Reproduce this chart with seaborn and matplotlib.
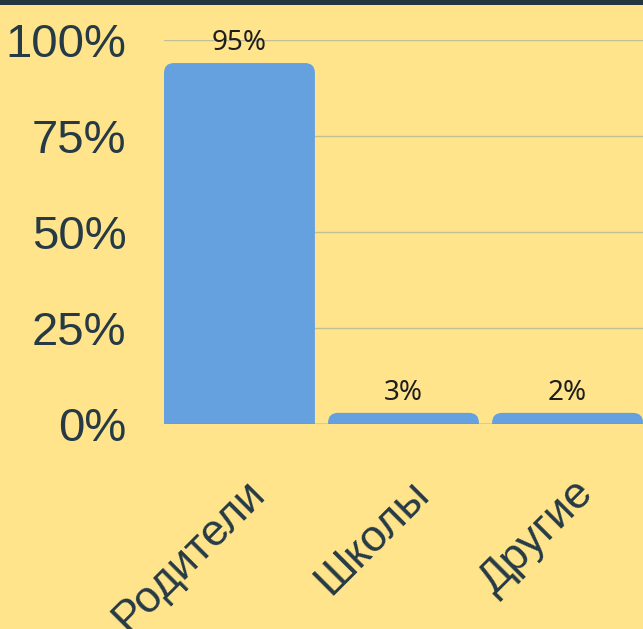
import matplotlib
matplotlib.use("Agg")
import matplotlib.pyplot as plt
import matplotlib.transforms as mtransforms
from matplotlib.path import Path
from matplotlib.patches import PathPatch, Rectangle
import pandas as pd
import seaborn as sns

# данные
categories = ["Родители", "Школы", "Другие"]
shares = [94, 2.9, 2.9]
value_labels = ["95%", "3%", "2%"]
y_ticks = [0, 25, 50, 75, 100]
y_tick_labels = ["0%", "25%", "50%", "75%", "100%"]

BG = "#FFE48B"
BAR = "#66A1DF"
DARK = "#253A45"


def rounded_top(ax, patch, r_px=10):
    # заменяем прямоугольник столбца на путь со скруглёнными верхними углами
    x0, y0 = patch.get_x(), patch.get_y()
    w, h = patch.get_width(), patch.get_height()
    inv = ax.transData.inverted()
    p0 = inv.transform((0, 0))
    p1 = inv.transform((r_px, r_px))
    rx = abs(p1[0] - p0[0])
    ry = min(abs(p1[1] - p0[1]), h)
    x1, y1 = x0 + w, y0 + h
    verts = [
        (x0, y0), (x0, y1 - ry), (x0, y1), (x0 + rx, y1),
        (x1 - rx, y1), (x1, y1), (x1, y1 - ry), (x1, y0), (x0, y0),
    ]
    codes = [
        Path.MOVETO, Path.LINETO, Path.CURVE3, Path.CURVE3,
        Path.LINETO, Path.CURVE3, Path.CURVE3, Path.LINETO, Path.CLOSEPOLY,
    ]
    ax.add_patch(PathPatch(Path(verts, codes), facecolor=patch.get_facecolor(),
                           edgecolor="none", zorder=3))
    patch.set_visible(False)


df = pd.DataFrame({"category": categories, "share": shares})

sns.set_theme(style="white")
plt.rcParams["font.family"] = ["Liberation Sans", "DejaVu Sans"]

fig = plt.figure(figsize=(6.43, 6.29), dpi=100, facecolor=BG)
ax = fig.add_axes([164 / 643, 205 / 629, 479 / 643, 384 / 629])
ax.set_facecolor(BG)

sns.barplot(data=df, x="category", y="share", color=BAR, saturation=1,
            width=0.92, ax=ax, zorder=3)

ax.set_xlim(-0.46, 2.46)
ax.set_ylim(0, 100)
ax.set_yticks(y_ticks)
ax.set_yticklabels(y_tick_labels)
ax.set_xlabel("")
ax.set_ylabel("")
for s in ax.spines.values():
    s.set_visible(False)
ax.grid(axis="y", color="#C2BE98", linewidth=1, zorder=0)
ax.grid(axis="x", visible=False)
ax.axhline(0, color="#8C8A78", linewidth=1, zorder=4)

ax.tick_params(axis="y", length=0, pad=27, labelsize=34, labelcolor=DARK)
ax.tick_params(axis="x", length=0, pad=8, labelsize=32, labelcolor=DARK)

# подписи значений
for container in ax.containers:
    ax.bar_label(container, labels=value_labels, padding=4, fontsize=20,
                 color="#1E1E1E", family=["Noto Sans", "DejaVu Sans"], zorder=5)

fig.canvas.draw()
bars = list(ax.patches)
for p in bars:
    rounded_top(ax, p)

# наклонные подписи категорий
for lab in ax.get_xticklabels():
    lab.set_rotation(45)
    lab.set_ha("right")
    lab.set_va("center")
    lab.set_rotation_mode("anchor")
    lab.set_transform(lab.get_transform() + mtransforms.ScaledTranslation(
        19 / 100, -52 / 100, fig.dpi_scale_trans))

fig.patches.append(Rectangle((0, 1 - 5 / 629), 1, 5 / 629, transform=fig.transFigure,
                             facecolor="#243640", edgecolor="none", zorder=10))

fig.savefig("out.png", dpi=100, facecolor=BG)
